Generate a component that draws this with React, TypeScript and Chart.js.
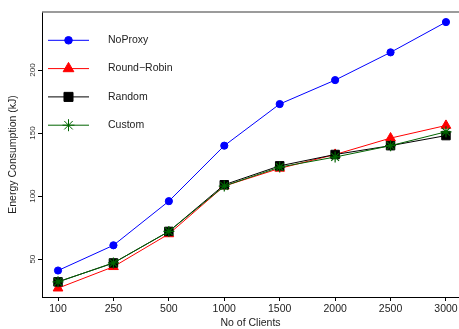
import React, { useEffect, useRef } from 'react';
import { Chart, registerables } from 'chart.js';

Chart.register(...registerables);

const clientLabels = ['100', '250', '500', '1000', '1500', '2000', '2500', '3000'];
const noProxy = [41, 61, 96, 140, 173, 192, 214, 238];
const roundRobin = [27, 44, 70, 108, 122, 133, 146, 156];
const random = [32, 47, 72, 109, 124, 133, 140, 148];
const custom = [32, 47, 72, 108, 123, 131, 140, 151];
const yTickValues = [50, 100, 150, 200];
const seriesNames = ['NoProxy', 'Round\u2212Robin', 'Random', 'Custom'];

const FONT = '"Liberation Sans", Arial, sans-serif';

function drawMarker(ctx: CanvasRenderingContext2D, style: string, x: number, y: number, r: number, fill: string, stroke: string) {
  ctx.save();
  ctx.fillStyle = fill;
  ctx.strokeStyle = stroke;
  ctx.lineWidth = 1;
  ctx.beginPath();
  if (style === 'circle') {
    ctx.arc(x, y, r, 0, Math.PI * 2);
    ctx.fill();
    ctx.stroke();
  } else if (style === 'triangle') {
    let rad = 0;
    ctx.moveTo(x + Math.sin(rad) * r, y - Math.cos(rad) * r);
    rad += (2 * Math.PI) / 3;
    ctx.lineTo(x + Math.sin(rad) * r, y - Math.cos(rad) * r);
    rad += (2 * Math.PI) / 3;
    ctx.lineTo(x + Math.sin(rad) * r, y - Math.cos(rad) * r);
    ctx.closePath();
    ctx.fill();
    ctx.stroke();
  } else if (style === 'rect') {
    const s = Math.SQRT1_2 * r;
    ctx.rect(x - s, y - s, 2 * s, 2 * s);
    ctx.fill();
    ctx.stroke();
  } else if (style === 'star') {
    ctx.moveTo(x - r, y);
    ctx.lineTo(x + r, y);
    ctx.moveTo(x, y - r);
    ctx.lineTo(x, y + r);
    const d = Math.SQRT1_2 * r;
    ctx.moveTo(x - d, y - d);
    ctx.lineTo(x + d, y + d);
    ctx.moveTo(x - d, y + d);
    ctx.lineTo(x + d, y - d);
    ctx.stroke();
  }
  ctx.restore();
}

const decorations = {
  id: 'decorations',
  afterDraw(chart: any) {
    const { ctx, chartArea } = chart;
    ctx.save();
    // top frame line
    ctx.strokeStyle = '#7a7a7a';
    ctx.lineWidth = 1.5;
    ctx.beginPath();
    ctx.moveTo(chartArea.left, chartArea.top);
    ctx.lineTo(chartArea.right, chartArea.top);
    ctx.stroke();

    // rotated y tick labels
    const ys = chart.scales.y;
    ctx.fillStyle = '#333';
    ctx.font = `8px ${FONT}`;
    ctx.textAlign = 'center';
    ctx.textBaseline = 'middle';
    yTickValues.forEach((v) => {
      const py = ys.getPixelForValue(v);
      ctx.save();
      ctx.translate(33, py);
      ctx.rotate(-Math.PI / 2);
      ctx.fillText(String(v), 0, 0);
      ctx.restore();
    });

    // legend
    chart.data.datasets.forEach((ds: any, i: number) => {
      const ly = 40.3 + i * 28.3;
      ctx.strokeStyle = ds.borderColor;
      ctx.lineWidth = 1;
      ctx.beginPath();
      ctx.moveTo(48, ly);
      ctx.lineTo(89, ly);
      ctx.stroke();
      drawMarker(ctx, ds.pointStyle, 68.5, ly, ds.legendRadius, ds.pointBackgroundColor, ds.pointBorderColor);
      ctx.fillStyle = '#222';
      ctx.font = `10.5px ${FONT}`;
      ctx.textAlign = 'left';
      ctx.textBaseline = 'middle';
      ctx.fillText(ds.label, 108, ly);
    });
    ctx.restore();
  },
};

export default function App() {
  const canvasRef = useRef<HTMLCanvasElement | null>(null);

  useEffect(() => {
    const canvas = canvasRef.current;
    if (!canvas) return;
    const toPoints = (arr: number[]) => arr.map((v, i) => ({ x: i, y: v }));
    const chart = new Chart(canvas, {
      type: 'line',
      data: {
        datasets: [
          {
            label: seriesNames[0],
            data: toPoints(noProxy),
            borderColor: '#0000ff',
            backgroundColor: '#0000ff',
            pointBackgroundColor: '#0000ff',
            pointBorderColor: '#0000ff',
            pointStyle: 'circle',
            pointRadius: 3.6,
            legendRadius: 3.8,
            borderWidth: 1,
            order: 3,
          } as any,
          {
            label: seriesNames[1],
            data: toPoints(roundRobin),
            borderColor: '#ff0000',
            backgroundColor: '#ff0000',
            pointBackgroundColor: '#ff0000',
            pointBorderColor: '#ff0000',
            pointStyle: 'triangle',
            pointRadius: 5.6,
            legendRadius: 6.2,
            borderWidth: 1,
            order: 2,
          } as any,
          {
            label: seriesNames[2],
            data: toPoints(random),
            borderColor: '#000000',
            backgroundColor: '#000000',
            pointBackgroundColor: '#000000',
            pointBorderColor: '#000000',
            pointStyle: 'rect',
            pointRadius: 6,
            legendRadius: 6.4,
            borderWidth: 1,
            order: 1,
          } as any,
          {
            label: seriesNames[3],
            data: toPoints(custom),
            borderColor: '#006400',
            backgroundColor: '#006400',
            pointBackgroundColor: '#006400',
            pointBorderColor: '#006400',
            pointStyle: 'star',
            pointRadius: 5.5,
            legendRadius: 6,
            borderWidth: 1,
            pointBorderWidth: 1.2,
            order: 0,
          } as any,
        ],
      },
      options: {
        responsive: false,
        animation: false,
        events: [],
        layout: { autoPadding: false, padding: { top: 12, right: 0, left: 0, bottom: 0 } },
        elements: { line: { tension: 0 } },
        plugins: {
          legend: { display: false },
          tooltip: { enabled: false },
        },
        scales: {
          x: {
            type: 'linear',
            min: -0.289,
            max: 7.235,
            afterBuildTicks: (s: any) => {
              s.ticks = clientLabels.map((_, i) => ({ value: i }));
            },
            afterFit: (s: any) => {
              s.height = 32;
              s.paddingLeft = 0;
              s.paddingRight = 0;
            },
            ticks: {
              callback: (v: any) => clientLabels[v as number],
              font: { family: FONT, size: 10.5 },
              color: '#222',
              padding: 2,
              autoSkip: false,
              maxRotation: 0,
              minRotation: 0,
            },
            grid: { display: true, drawOnChartArea: false, drawTicks: true, tickLength: 4, color: '#000' },
            border: { display: true, color: '#000', width: 1 },
            title: {
              display: true,
              text: 'No of Clients',
              font: { family: FONT, size: 10.5 },
              color: '#222',
              padding: { top: 0, bottom: 0 },
            },
          },
          y: {
            type: 'linear',
            min: 20,
            max: 246,
            afterBuildTicks: (s: any) => {
              s.ticks = yTickValues.map((v) => ({ value: v }));
            },
            afterFit: (s: any) => {
              s.width = 42;
            },
            ticks: { display: false },
            grid: { display: true, drawOnChartArea: false, drawTicks: true, tickLength: 4, color: '#000' },
            border: { display: true, color: '#000', width: 1 },
            title: {
              display: true,
              text: 'Energy Consumption (kJ)',
              font: { family: FONT, size: 10.5 },
              color: '#222',
              padding: { top: 7, bottom: 0 },
            },
          },
        },
      } as any,
      plugins: [decorations],
    });
    return () => chart.destroy();
  }, []);

  return (
    <div style={{ position: 'fixed', left: 0, top: 0, width: 459, height: 329, background: '#fff' }}>
      <canvas ref={canvasRef} width={459} height={329} style={{ width: 459, height: 329, display: 'block' }} />
    </div>
  );
}
